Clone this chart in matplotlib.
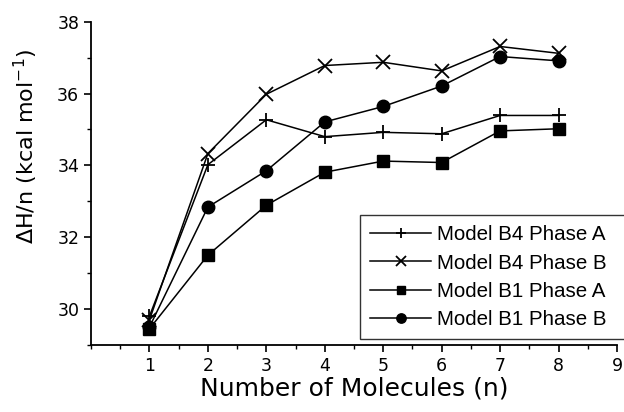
import matplotlib
matplotlib.use("Agg")
import matplotlib.pyplot as plt
from matplotlib.ticker import MultipleLocator

# data
nMolecules = [1, 2, 3, 4, 5, 6, 7, 8]
b4PhaseA = [29.8, 34.02, 35.27, 34.8, 34.92, 34.88, 35.39, 35.39]
b4PhaseB = [29.7, 34.33, 35.98, 36.78, 36.87, 36.63, 37.31, 37.12]
b1PhaseA = [29.45, 31.5, 32.89, 33.81, 34.12, 34.08, 34.96, 35.02]
b1PhaseB = [29.5, 32.84, 33.85, 35.21, 35.64, 36.21, 37.03, 36.91]
labels = ["Model B4 Phase A", "Model B4 Phase B", "Model B1 Phase A", "Model B1 Phase B"]

fig = plt.figure(figsize=(6.24, 4.12), dpi=100)
ax = fig.add_axes([91 / 624, 1 - 345 / 412, (617 - 91) / 624, (345 - 21.7) / 412])

ax.plot(nMolecules, b4PhaseA, color="black", linewidth=1.1, marker="+",
        markersize=10, markeredgewidth=1.3, label=labels[0])
ax.plot(nMolecules, b4PhaseB, color="black", linewidth=1.1, marker="x",
        markersize=10, markeredgewidth=1.3, label=labels[1])
ax.plot(nMolecules, b1PhaseA, color="black", linewidth=1.1, marker="s",
        markersize=8.5, label=labels[2])
ax.plot(nMolecules, b1PhaseB, color="black", linewidth=1.1, marker="o",
        markersize=9, label=labels[3])

ax.set_xlim(0, 9)
ax.set_ylim(29, 38)
ax.xaxis.set_major_locator(MultipleLocator(1))
ax.xaxis.set_minor_locator(MultipleLocator(0.5))
ax.yaxis.set_major_locator(MultipleLocator(2))
ax.yaxis.set_minor_locator(MultipleLocator(1))
ax.set_xticks(range(1, 10))
ax.spines["top"].set_visible(False)
ax.spines["right"].set_visible(False)
ax.spines["left"].set_linewidth(1.3)
ax.spines["bottom"].set_linewidth(1.3)
ax.tick_params(which="major", direction="out", length=5, width=1.2, labelsize=12.5)
ax.tick_params(which="minor", direction="out", length=3, width=1.0)

ax.set_xlabel("Number of Molecules (n)", fontsize=18, labelpad=1)
ax.set_ylabel("ΔH/n (kcal mol$^{-1}$)", fontsize=16)
ax.yaxis.set_label_coords(-0.097, 0.615)

leg = ax.legend(loc="upper left", bbox_to_anchor=(360 / 624, 1 - 215 / 412, (640 - 360) / 624, 0),
                bbox_transform=fig.transFigure, mode="expand",
                prop={"family": "Liberation Sans", "size": 14.8},
                frameon=True, fancybox=False, borderaxespad=0, handlelength=2.95,
                handletextpad=0.3, labelspacing=0.45, borderpad=0.5, markerscale=0.75)
leg.get_frame().set_edgecolor("black")
leg.get_frame().set_linewidth(1.0)

fig.savefig("out.png", dpi=100)
